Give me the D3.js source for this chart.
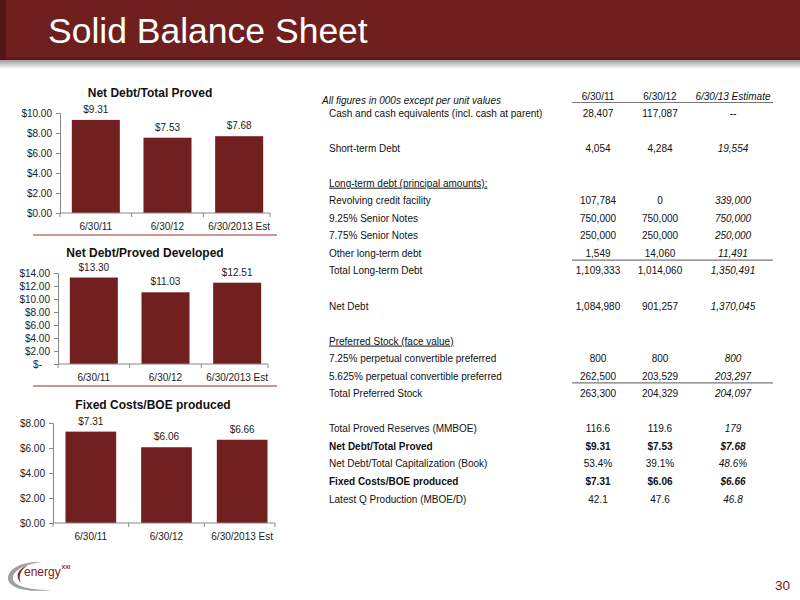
<!DOCTYPE html>
<html>
<head>
<meta charset="utf-8">
<script src="https://cdn.jsdelivr.net/npm/d3@7/dist/d3.min.js"></script>
<style>
  body { margin: 0; background: #fff; }
  svg { display: block; font-family: Arial, 'Liberation Sans', sans-serif; }
</style>
</head>
<body>
<svg id="slide" width="800" height="600"></svg>
<script>
// chart data
const categories = ['6/30/11', '6/30/12', '6/30/2013 Est'];
const netDebtTotalProved = [9.31, 7.53, 7.68];
const netDebtProvedDeveloped = [13.30, 11.03, 12.51];
const fixedCostsBoe = [7.31, 6.06, 6.66];

// table data ('' = spacer row)
const columnHeaders = ['6/30/11', '6/30/12', '6/30/13 Estimate'];
const rowLabels = [
  'Cash and cash equivalents (incl. cash at parent)', '',
  'Short-term Debt', '',
  'Long-term debt (principal amounts):',
  'Revolving credit facility',
  '9.25% Senior Notes',
  '7.75% Senior Notes',
  'Other long-term debt',
  'Total Long-term Debt', '',
  'Net Debt', '',
  'Preferred Stock (face value)',
  '7.25% perpetual convertible preferred',
  '5.625% perpetual convertible preferred',
  'Total Preferred Stock', '',
  'Total Proved Reserves (MMBOE)',
  'Net Debt/Total Proved',
  'Net Debt/Total Capitalization (Book)',
  'Fixed Costs/BOE produced',
  'Latest Q Production (MBOE/D)'
];
const values2011 = ['28,407', '', '4,054', '', '', '107,784', '750,000', '250,000', '1,549', '1,109,333', '',
  '1,084,980', '', '', '800', '262,500', '263,300', '', '116.6', '$9.31', '53.4%', '$7.31', '42.1'];
const values2012 = ['117,087', '', '4,284', '', '', '0', '750,000', '250,000', '14,060', '1,014,060', '',
  '901,257', '', '', '800', '203,529', '204,329', '', '119.6', '$7.53', '39.1%', '$6.06', '47.6'];
const values2013 = ['--', '', '19,554', '', '', '339,000', '750,000', '250,000', '11,491', '1,350,491', '',
  '1,370,045', '', '', '800', '203,297', '204,097', '', '179', '$7.68', '48.6%', '$6.66', '46.8'];

const boldRows = [19, 21];
const underlinedRows = [4, 13];
const rulesAfterRows = [8, 15];

const RED = '#6e1f1e';
const BAR = '#72201f';
const svg = d3.select('#slide');

// ---- header bar ----
const defs = svg.append('defs');
const shadow = defs.append('linearGradient').attr('id', 'shadow').attr('x1', 0).attr('y1', 0).attr('x2', 0).attr('y2', 1);
shadow.append('stop').attr('offset', '0%').attr('stop-color', '#9a9a9a');
shadow.append('stop').attr('offset', '100%').attr('stop-color', '#fff');

svg.append('rect').attr('x', 0).attr('y', 60).attr('width', 800).attr('height', 9).attr('fill', 'url(#shadow)');
svg.append('rect').attr('x', 0).attr('y', 0).attr('width', 800).attr('height', 60).attr('fill', RED);
svg.append('rect').attr('x', 0).attr('y', 0).attr('width', 6).attr('height', 60).attr('fill', '#521615');
svg.append('rect').attr('x', 6).attr('y', 57).attr('width', 794).attr('height', 3).attr('fill', '#5e1a19');
svg.append('text')
  .attr('x', 48).attr('y', 43)
  .attr('fill', '#fff')
  .style('font-size', '35.5px')
  .text('Solid Balance Sheet');

// ---- bar charts ----
const charts = [
  { title: 'Net Debt/Total Proved', values: netDebtTotalProved, max: 10, step: 2,
    left: 60, right: 275, top: 113, bottom: 213, titleY: 97, titleX: 150, divider: 235 },
  { title: 'Net Debt/Proved Developed', values: netDebtProvedDeveloped, max: 14, step: 2,
    left: 58, right: 273, top: 273, bottom: 364, titleY: 257, titleX: 145, divider: 386, dash: true },
  { title: 'Fixed Costs/BOE produced', values: fixedCostsBoe, max: 8, step: 2,
    left: 53, right: 280, top: 423, bottom: 523, titleY: 409, titleX: 153 }
];

charts.forEach(c => {
  const g = svg.append('g');
  const x = d3.scaleBand().domain(categories).range([c.left, c.right]).paddingInner(0.33).paddingOuter(0.165);
  const y = d3.scaleLinear().domain([0, c.max]).range([c.bottom, c.top]);

  g.append('text')
    .attr('x', c.titleX).attr('y', c.titleY)
    .attr('text-anchor', 'middle')
    .style('font-size', '12px').style('font-weight', 'bold')
    .attr('fill', '#111')
    .text(c.title);

  g.selectAll('rect.bar')
    .data(c.values)
    .join('rect')
    .attr('class', 'bar')
    .attr('x', (d, i) => x(categories[i]))
    .attr('y', d => y(d))
    .attr('width', x.bandwidth())
    .attr('height', d => y(0) - y(d))
    .attr('fill', BAR);

  g.selectAll('text.val')
    .data(c.values)
    .join('text')
    .attr('class', 'val')
    .attr('x', (d, i) => x(categories[i]) + x.bandwidth() / 2)
    .attr('y', d => y(d) - 7)
    .attr('text-anchor', 'middle')
    .style('font-size', '10px')
    .attr('fill', '#222')
    .text(d => `$${d.toFixed(2)}`);

  const yAxis = g.append('g')
    .attr('transform', `translate(${c.left},0)`)
    .call(d3.axisLeft(y)
      .tickValues(d3.range(0, c.max + 0.01, c.step))
      .tickSize(4)
      .tickPadding(4)
      .tickFormat(d => (c.dash && d === 0 ? '$-' : `$${d.toFixed(2)}`)));
  yAxis.selectAll('text').style('font-size', '10px').attr('fill', '#222').style('font-family', 'inherit');
  if (c.dash) yAxis.selectAll('.tick').filter(d => d === 0).select('text').attr('dx', -8);

  const xAxis = g.append('g')
    .attr('transform', `translate(0,${c.bottom})`)
    .call(d3.axisBottom(x).tickSize(0).tickPadding(9.5).tickSizeOuter(0));
  xAxis.selectAll('text').style('font-size', '10px').attr('fill', '#222').style('font-family', 'inherit');
  xAxis.select('.domain').attr('d', `M${c.left},0H${c.right - 5}`);

  // category boundary ticks, excel style
  g.selectAll('line.xtick')
    .data(d3.range(categories.length + 1))
    .join('line')
    .attr('class', 'xtick')
    .attr('x1', i => Math.min(c.left + i * x.step(), c.right - 5))
    .attr('x2', i => Math.min(c.left + i * x.step(), c.right - 5))
    .attr('y1', c.bottom).attr('y2', c.bottom + 4)
    .attr('stroke', '#888');

  g.selectAll('.domain, .tick line').attr('stroke', '#888');

  if (c.divider) {
    g.append('line')
      .attr('x1', 33).attr('x2', 277)
      .attr('y1', c.divider).attr('y2', c.divider)
      .attr('stroke', '#b97572').attr('stroke-width', 1.5);
  }
});

// ---- table ----
const t = svg.append('g').style('font-size', '10px').attr('fill', '#111');
const rowY = d3.scaleLinear().domain([0, rowLabels.length - 1]).range([113, 499]);
const colX = [598, 660, 733];
const columns = [values2011, values2012, values2013];

t.append('text')
  .attr('x', 322).attr('y', 103.5)
  .style('font-style', 'italic')
  .text('All figures in 000s except per unit values');

t.selectAll('text.head')
  .data(columnHeaders)
  .join('text')
  .attr('class', 'head')
  .attr('x', (d, i) => colX[i])
  .attr('y', 100)
  .attr('text-anchor', 'middle')
  .style('font-style', (d, i) => (i === 2 ? 'italic' : null))
  .text(d => d);

t.append('line').attr('x1', 572).attr('x2', 773).attr('y1', 102.5).attr('y2', 102.5)
  .attr('stroke', '#777').attr('stroke-width', 1.2);

t.selectAll('text.label')
  .data(rowLabels)
  .join('text')
  .attr('class', 'label')
  .attr('x', 329)
  .attr('y', (d, i) => rowY(i) + 3.5)
  .style('font-weight', (d, i) => (boldRows.includes(i) ? 'bold' : null))
  .style('text-decoration', (d, i) => (underlinedRows.includes(i) ? 'underline' : null))
  .text(d => d);

columns.forEach((col, ci) => {
  t.selectAll(`text.c${ci}`)
    .data(col)
    .join('text')
    .attr('class', `c${ci}`)
    .attr('x', colX[ci])
    .attr('y', (d, i) => rowY(i) + 3.5)
    .attr('text-anchor', 'middle')
    .style('font-weight', (d, i) => (boldRows.includes(i) ? 'bold' : null))
    .style('font-style', ci === 2 ? 'italic' : null)
    .text(d => d);
});

rulesAfterRows.forEach(r => {
  const yy = (rowY(r) + rowY(r + 1)) / 2 - 2;
  t.append('line').attr('x1', 572).attr('x2', 773).attr('y1', yy).attr('y2', yy)
    .attr('stroke', '#777').attr('stroke-width', 1.2);
});

// ---- footer: logo + page number ----
const logo = svg.append('g');
// grey swoosh
logo.append('path')
  .attr('d', 'M42,562 C22,561 8,569 8,578 C8,588 26,593 52,590 C32,590 14,587 13,579 C12,571 24,564 42,562 Z')
  .attr('fill', '#a0a0a0');
// red inner arc
logo.append('path')
  .attr('d', 'M28,565 C17,569 15,577 21,583 C18,577 20,570 28,565 Z')
  .attr('fill', '#8a2424');
logo.append('text')
  .attr('x', 24).attr('y', 576)
  .attr('fill', '#7a2020')
  .style('font-size', '12px')
  .text('energy');
logo.append('text')
  .attr('x', 61.5).attr('y', 569)
  .attr('fill', '#7a2020')
  .style('font-size', '5.5px').style('font-weight', 'bold')
  .text('XXI');

svg.append('text')
  .attr('x', 790).attr('y', 590)
  .attr('text-anchor', 'end')
  .attr('fill', '#7a2020')
  .style('font-size', '13.5px')
  .text('30');
</script>
</body>
</html>
